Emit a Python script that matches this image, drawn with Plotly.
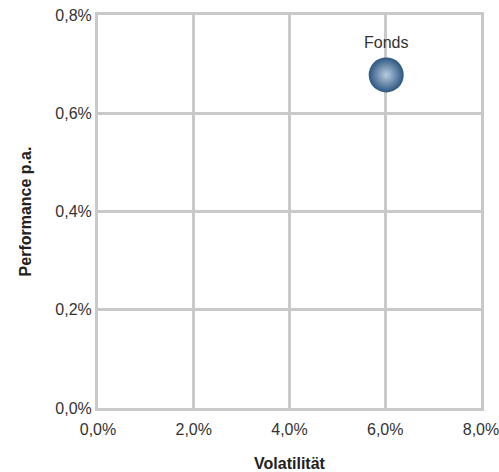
import plotly.graph_objects as go

names = ["Fonds"]
volatility = [6.02]
performance = [0.678]
x_ticks = [0, 2, 4, 6, 8]
x_labels = ["0,0%", "2,0%", "4,0%", "6,0%", "8,0%"]
y_ticks = [0, 0.2, 0.4, 0.6, 0.8]
y_labels = ["0,0%", "0,2%", "0,4%", "0,6%", "0,8%"]

grid = "#c9c9c9"
fig = go.Figure()
fig.add_trace(go.Scatter(
    x=volatility, y=performance, mode="markers+text", text=names,
    textposition="top center",
    textfont=dict(size=16, color="#333333", family="Liberation Sans, Arial"),
    marker=dict(size=35, color="#2c5680",
                gradient=dict(type="radial", color="#b9cce0"),
                line=dict(width=0)),
    cliponaxis=False, showlegend=False,
))
fig.update_layout(
    width=499, height=472,
    margin=dict(l=98, r=18, t=15, b=64),
    paper_bgcolor="white", plot_bgcolor="white",
    font=dict(family="Liberation Sans, Arial", size=16, color="#333333"),
    xaxis=dict(range=[0, 8], tickvals=x_ticks, ticktext=x_labels,
               showgrid=True, gridcolor=grid, gridwidth=3, zeroline=False,
               showline=True, linecolor=grid, linewidth=3, mirror=True,
               ticks="outside", ticklen=5, tickcolor="rgba(0,0,0,0)",
               automargin=False, ticklabeloverflow="allow",
               title=dict(text="<b>Volatilität</b>", standoff=22,
                          font=dict(size=16, color="#222222"))),
    yaxis=dict(range=[0, 0.8], tickvals=y_ticks, ticktext=y_labels,
               showgrid=True, gridcolor=grid, gridwidth=3, zeroline=False,
               showline=True, linecolor=grid, linewidth=3, mirror=True,
               ticks="", automargin=False, ticklabeloverflow="allow",
               title=dict(text="<b>Performance p.a.</b>", standoff=20,
                          font=dict(size=16, color="#222222"))),
)
fig.write_html("out.html", config={"displayModeBar": False},
               post_script="document.body.style.margin='0px';document.body.style.overflow='hidden';")
